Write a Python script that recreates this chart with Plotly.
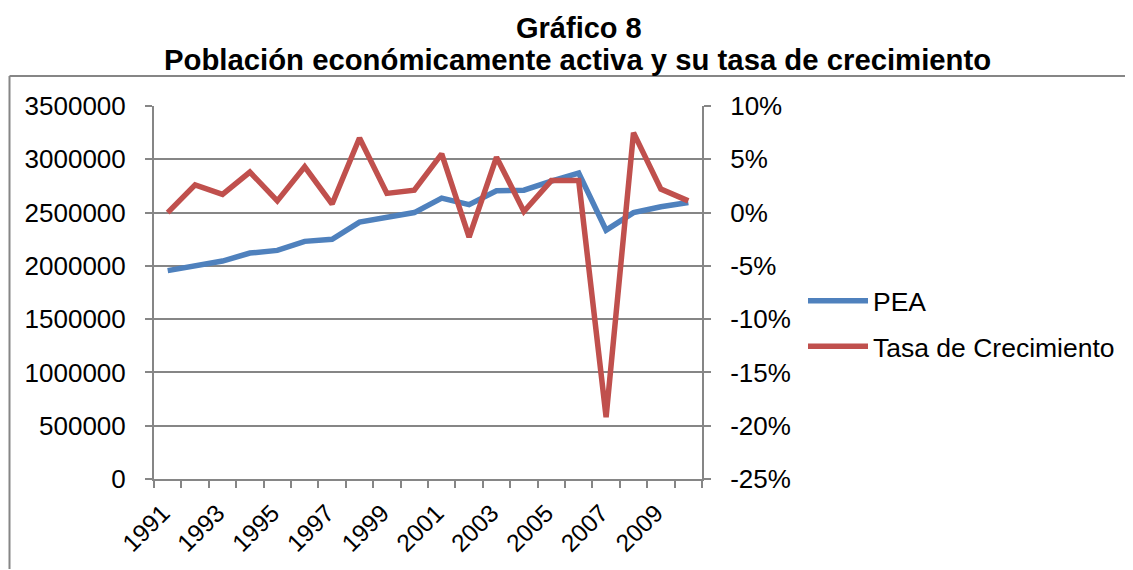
import plotly.graph_objects as go

years = list(range(1991, 2011))
pea = [1955000, 2005000, 2045000, 2120000, 2145000, 2230000, 2250000, 2410000, 2455000,
       2500000, 2635000, 2575000, 2705000, 2710000, 2795000, 2870000, 2335000, 2500000,
       2555000, 2595000]
tasa = [0.000, 0.026, 0.017, 0.038, 0.011, 0.043, 0.008, 0.070, 0.018, 0.021,
        0.055, -0.023, 0.052, 0.001, 0.030, 0.030, -0.192, 0.075, 0.022, 0.011]
tick_years = list(range(1991, 2011, 2))
pct_ticks = [-0.25, -0.20, -0.15, -0.10, -0.05, 0.0, 0.05, 0.10]
pct_labels = ["-25%", "-20%", "-15%", "-10%", "-5%", "0%", "5%", "10%"]
title_line1 = "Gráfico 8"
title_line2 = "Población económicamente activa y su tasa de crecimiento"

OFF = 8  # page body margin
W, H = 1133 - OFF, 570 - OFF
L, R, T, B = 154, 702, 106, 479  # plot area in page pixels


def px(x):
    return (x - L) / (R - L)


def py(y):
    return (B - y) / (B - T)


grey = "#868686"
font_family = "Liberation Sans, Arial, sans-serif"
fs = 26

fig = go.Figure()
fig.add_trace(go.Scatter(x=years, y=pea, name="PEA", mode="lines",
                         line=dict(color="#4F81BD", width=5.5), legendgroup="a"))
fig.add_trace(go.Scatter(x=years, y=tasa, name="Tasa de Crecimiento", mode="lines",
                         line=dict(color="#C0504D", width=5.5), yaxis="y2", legendgroup="b"))

fig.update_layout(
    width=W, height=H,
    margin=dict(l=L - OFF, r=W - (R - OFF), t=T - OFF, b=H - (B - OFF), pad=0),
    paper_bgcolor="white", plot_bgcolor="white",
    font=dict(family=font_family, size=fs, color="black"),
    showlegend=True,
    legend=dict(x=px(803), y=py(277), xanchor="left", yanchor="top",
                font=dict(size=26.5), traceorder="grouped", tracegroupgap=8,
                itemwidth=60, bgcolor="rgba(0,0,0,0)"),
    xaxis=dict(range=[1990.5, 2010.5], tickmode="array", tickvals=tick_years,
               ticktext=[str(y) for y in tick_years], tickangle=-45,
               ticks="", showgrid=False, showline=True, linecolor=grey, linewidth=2,
               zeroline=False, tickfont=dict(size=24.5),
               ticklabelstandoff=8, ticklabelshift=-5,
               minor=dict(tick0=1990.5, dtick=1, ticks="outside", ticklen=7,
                          tickcolor=grey, tickwidth=2, showgrid=False)),
    yaxis=dict(range=[0, 3500000], dtick=500000, tickformat="d",
               showgrid=True, gridcolor=grey, gridwidth=2,
               showline=True, linecolor=grey, linewidth=2, zeroline=False,
               ticks="outside", ticklen=7, tickcolor=grey, tickwidth=2,
               ticklabelstandoff=14, tickfont=dict(size=fs)),
    yaxis2=dict(range=[-0.25, 0.10], tickmode="array", tickvals=pct_ticks, ticktext=pct_labels,
                overlaying="y", side="right", showgrid=False,
                showline=True, linecolor=grey, linewidth=2, zeroline=False,
                ticks="outside", ticklen=7, tickcolor=grey, tickwidth=2,
                ticklabelstandoff=14, tickfont=dict(size=fs)),
)

fig.add_annotation(text=f"<b>{title_line1}</b>", x=px(579), y=py(28), xref="paper", yref="paper",
                   showarrow=False, xanchor="center", yanchor="middle",
                   font=dict(size=29, family=font_family))
fig.add_annotation(text=f"<b>{title_line2}</b>", x=px(577), y=py(60), xref="paper", yref="paper",
                   showarrow=False, xanchor="center", yanchor="middle",
                   font=dict(size=29.3, family=font_family))

# outer chart border (partially cropped in the reference)
fig.add_shape(type="line", xref="paper", yref="paper", x0=px(9.5), y0=py(76), x1=px(1132), y1=py(76),
              line=dict(color=grey, width=2), layer="above")
fig.add_shape(type="line", xref="paper", yref="paper", x0=px(9.5), y0=py(76), x1=px(9.5), y1=py(569),
              line=dict(color=grey, width=2), layer="above")

fig.write_html("out.html")
